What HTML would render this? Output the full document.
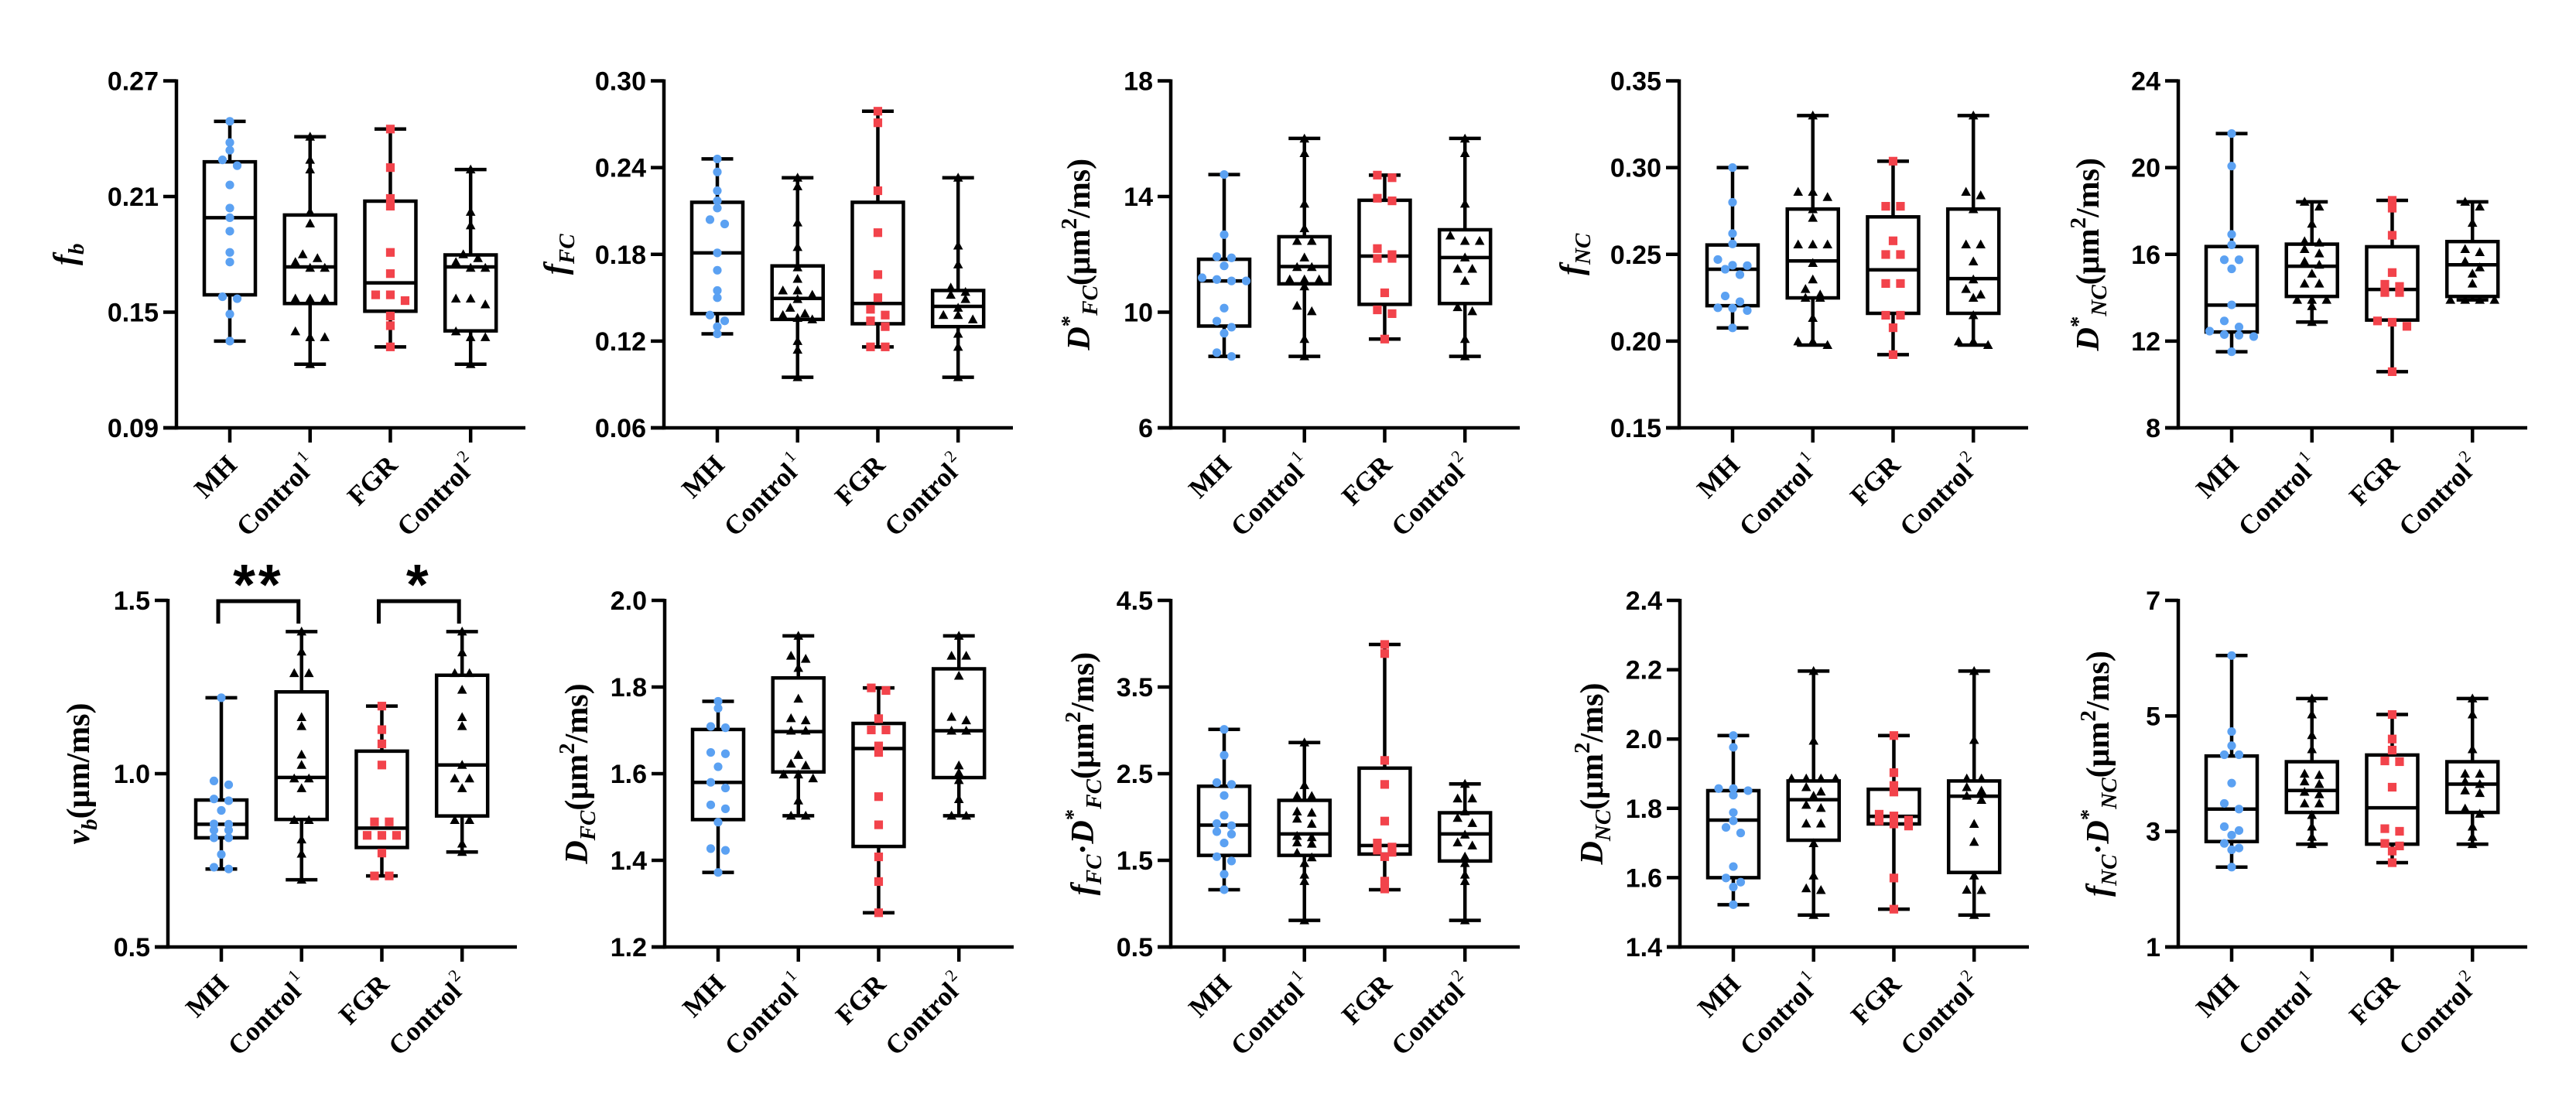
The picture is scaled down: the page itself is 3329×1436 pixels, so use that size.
<!DOCTYPE html>
<html><head><meta charset="utf-8">
<style>
html,body{margin:0;padding:0;background:#fff;}
svg{display:block;}
</style></head>
<body>
<svg id="fig" width="3329" height="1436" viewBox="0 0 3329 1436" xmlns="http://www.w3.org/2000/svg">
<rect width="3329" height="1436" fill="#fff"/>
</svg>
<script>
// ---------- data ----------
const categories = ["MH", "Control", "FGR", "Control"];
const catSup = ["", "1", "", "2"];

// Panel 1: f_b
const p1Ticks = [0.09, 0.15, 0.21, 0.27];
const p1Labels = ["0.09", "0.15", "0.21", "0.27"];
const p1MH = [0.249,0.238,0.234,0.229,0.226,0.216,0.204,0.199,0.192,0.181,0.176,0.157,0.158,0.149,0.135];
const p1C1 = [0.241,0.229,0.224,0.202,0.196,0.180,0.178,0.173,0.173,0.176,0.157,0.157,0.157,0.140,0.137,0.137,0.123];
const p1FGR = [0.245,0.225,0.209,0.205,0.181,0.170,0.159,0.156,0.159,0.148,0.143,0.132];
const p1C2 = [0.224,0.202,0.195,0.178,0.180,0.173,0.173,0.176,0.157,0.157,0.154,0.140,0.137,0.137,0.123];
const p1Box = [[0.135,0.159,0.199,0.228,0.249],[0.123,0.1545,0.1735,0.2004,0.241],[0.132,0.1505,0.1652,0.2076,0.245],[0.123,0.1403,0.1735,0.1797,0.224]];

// Panel 2: f_FC
const p2Ticks = [0.06, 0.12, 0.18, 0.24, 0.30];
const p2Labels = ["0.06", "0.12", "0.18", "0.24", "0.30"];
const p2MH = [0.246,0.237,0.224,0.217,0.212,0.204,0.201,0.181,0.169,0.155,0.150,0.138,0.134,0.130,0.125];
const p2C1 = [0.233,0.227,0.202,0.185,0.171,0.163,0.155,0.155,0.152,0.149,0.143,0.139,0.138,0.136,0.135,0.120,0.114,0.095];
const p2FGR = [0.279,0.271,0.224,0.195,0.166,0.150,0.142,0.138,0.134,0.130,0.116,0.116];
const p2C2 = [0.233,0.186,0.173,0.154,0.157,0.149,0.152,0.143,0.138,0.138,0.135,0.125,0.116,0.095];
const p2Box = [[0.125,0.139,0.181,0.216,0.246],[0.095,0.135,0.1495,0.172,0.233],[0.116,0.132,0.146,0.216,0.279],[0.095,0.130,0.144,0.155,0.233]];

// Panel 3: D*_FC
const p3Ticks = [6, 10, 14, 18];
const p3Labels = ["6", "10", "14", "18"];
const p3MH = [14.76,12.68,11.88,11.92,11.6,11.13,11.08,11.08,11.19,10.14,9.69,9.48,9.27,8.6,8.47];
const p3C1 = [16.0,15.5,13.75,12.9,12.46,12.46,11.89,11.56,11.56,11.13,11.13,11.13,10.89,10.22,10.03,9.07,8.47];
const p3FGR = [14.65,14.74,13.85,13.94,12.2,11.99,11.86,11.86,10.67,9.95,10.08,9.07];
const p3C2 = [16.0,15.5,13.75,12.65,12.46,12.46,11.89,11.5,11.5,11.08,10.17,10.03,9.07,8.47];
const p3Box = [[8.47,9.52,11.08,11.83,14.76],[8.47,10.98,11.58,12.61,16.01],[9.07,10.27,11.94,13.87,14.74],[8.47,10.3,11.89,12.85,16.01]];

// Panel 4: f_NC
const p4Ticks = [0.15, 0.20, 0.25, 0.30, 0.35];
const p4Labels = ["0.15", "0.20", "0.25", "0.30", "0.35"];
const p4MH = [0.300,0.280,0.262,0.256,0.247,0.2435,0.2414,0.2437,0.2383,0.226,0.2227,0.219,0.2176,0.2192,0.2076];
const p4C1 = [0.330,0.286,0.283,0.286,0.276,0.271,0.2557,0.2557,0.2557,0.245,0.2355,0.230,0.2268,0.2249,0.2249,0.2133,0.1998,0.1998,0.1977];
const p4FGR = [0.3037,0.2777,0.2777,0.2578,0.2499,0.2499,0.2332,0.2332,0.2149,0.2149,0.2077,0.1922];
const p4C2 = [0.330,0.284,0.286,0.276,0.2557,0.2557,0.2459,0.2355,0.230,0.2268,0.2249,0.2149,0.1998,0.1998,0.1977];
const p4Box = [[0.2076,0.2204,0.2414,0.2554,0.300],[0.1977,0.2249,0.2462,0.2761,0.330],[0.1922,0.216,0.2411,0.2716,0.3037],[0.1977,0.216,0.236,0.2761,0.330]];

// Panel 5: D*_NC
const p5Ticks = [8, 12, 16, 20, 24];
const p5Labels = ["8", "12", "16", "20", "24"];
const p5MH = [21.57,20.07,16.92,16.44,15.75,15.75,15.33,13.67,12.93,12.65,12.46,12.27,12.3,12.21,11.51];
const p5C1 = [18.42,18.2,17.41,16.54,16.6,16.04,16.24,15.67,15.52,15.11,14.65,14.65,13.9,13.9,13.9,13.61,12.88];
const p5FGR = [18.49,18.13,16.88,15.16,14.52,14.62,14.24,14.24,12.93,12.68,12.87,10.59];
const p5C2 = [18.42,18.2,17.45,16.1,16.24,15.67,15.4,15.11,14.65,13.9,13.9,13.9,13.9];
const p5Box = [[11.51,12.42,13.66,16.36,21.57],[12.88,14.06,15.45,16.47,18.42],[10.59,12.97,14.38,16.35,18.49],[13.9,14.06,15.52,16.59,18.42]];

// Panel 6: v_b
const p6Ticks = [0.5, 1.0, 1.5];
const p6Labels = ["0.5", "1.0", "1.5"];
const p6MH = [1.219,0.968,0.979,0.922,0.927,0.894,0.855,0.854,0.837,0.837,0.815,0.815,0.767,0.730,0.725];
const p6C1 = [1.410,1.352,1.290,1.290,1.163,1.137,1.055,1.025,0.986,0.986,0.958,0.866,0.866,0.810,0.769,0.694];
const p6FGR = [1.195,1.127,1.086,1.025,0.861,0.861,0.822,0.822,0.822,0.771,0.705,0.705];
const p6C2 = [1.410,1.350,1.290,1.290,1.242,1.163,1.137,1.025,0.986,0.986,0.958,0.866,0.866,0.798,0.774];
const p6Box = [[0.725,0.815,0.854,0.924,1.219],[0.694,0.868,0.989,1.236,1.410],[0.705,0.787,0.843,1.065,1.195],[0.774,0.878,1.025,1.284,1.410]];
const p6Sig = [["**", 0, 1], ["*", 2, 3]];

// Panel 7: D_FC
const p7Ticks = [1.2, 1.4, 1.6, 1.8, 2.0];
const p7Labels = ["1.2", "1.4", "1.6", "1.8", "2.0"];
const p7MH = [1.767,1.751,1.709,1.706,1.649,1.646,1.616,1.580,1.567,1.528,1.519,1.488,1.427,1.423,1.372];
const p7C1 = [1.918,1.872,1.865,1.844,1.773,1.728,1.723,1.699,1.699,1.643,1.623,1.619,1.598,1.598,1.589,1.538,1.503,1.503];
const p7FGR = [1.798,1.792,1.727,1.701,1.701,1.664,1.649,1.547,1.482,1.408,1.351,1.279];
const p7C2 = [1.918,1.872,1.872,1.826,1.731,1.723,1.699,1.699,1.619,1.602,1.585,1.541,1.503,1.503];
const p7Box = [[1.372,1.494,1.580,1.702,1.767],[1.503,1.604,1.697,1.821,1.918],[1.279,1.432,1.658,1.716,1.798],[1.503,1.591,1.699,1.842,1.918]];

// Panel 8: f_FC·D*_FC
const p8Ticks = [0.5, 1.5, 2.5, 3.5, 4.5];
const p8Labels = ["0.5", "1.5", "2.5", "3.5", "4.5"];
const p8MH = [3.011,2.713,2.376,2.397,2.248,2.019,1.924,1.900,1.831,1.802,1.700,1.542,1.492,1.340,1.161];
const p8C1 = [2.859,2.367,2.242,2.242,2.064,2.049,1.980,1.921,1.781,1.766,1.691,1.706,1.587,1.534,1.468,1.334,1.260,0.807];
const p8FGR = [3.991,3.886,2.653,2.376,1.953,1.700,1.653,1.593,1.617,1.542,1.260,1.170];
const p8C2 = [2.382,2.213,2.213,2.064,1.989,1.930,1.796,1.706,1.671,1.542,1.468,1.334,1.260,0.807];
const p8Box = [[1.161,1.557,1.906,2.355,3.011],[0.807,1.557,1.805,2.192,2.859],[1.161,1.572,1.671,2.564,3.991],[0.807,1.492,1.805,2.049,2.382]];

// Panel 9: D_NC
const p9Ticks = [1.4, 1.6, 1.8, 2.0, 2.2, 2.4];
const p9Labels = ["1.4", "1.6", "1.8", "2.0", "2.2", "2.4"];
const p9MH = [2.010,1.976,1.857,1.857,1.851,1.838,1.788,1.764,1.745,1.729,1.632,1.599,1.587,1.573,1.522];
const p9C1 = [2.196,1.995,1.886,1.886,1.886,1.886,1.861,1.848,1.836,1.810,1.801,1.756,1.756,1.699,1.606,1.569,1.564,1.492];
const p9FGR = [2.010,1.903,1.866,1.847,1.783,1.778,1.766,1.749,1.755,1.764,1.599,1.509];
const p9C2 = [2.196,1.997,1.886,1.886,1.861,1.851,1.836,1.824,1.755,1.703,1.606,1.565,1.564,1.492];
const p9Box = [[1.522,1.600,1.766,1.851,2.010],[1.492,1.708,1.825,1.879,2.196],[1.509,1.755,1.777,1.855,2.010],[1.492,1.615,1.835,1.879,2.196]];

// Panel 10: f_NC·D*_NC
const p10Ticks = [1, 3, 5, 7];
const p10Labels = ["1", "3", "5", "7"];
const p10MH = [6.045,4.729,4.484,4.328,4.328,3.837,3.485,3.387,3.083,3.016,2.936,2.793,2.682,2.713,2.383];
const p10C1 = [5.300,5.024,4.667,4.422,3.998,3.976,3.864,3.819,3.686,3.641,3.485,3.485,3.284,3.083,2.905,2.780];
const p10FGR = [5.024,4.600,4.408,4.221,4.208,3.766,3.048,3.003,2.749,2.793,2.660,2.459];
const p10C2 = [5.300,5.024,4.422,3.998,3.998,3.864,3.819,3.708,3.663,3.396,3.306,3.083,2.905,2.780];
const p10Box = [[2.383,2.825,3.387,4.306,6.045],[2.780,3.329,3.708,4.207,5.300],[2.459,2.780,3.409,4.323,5.024],[2.780,3.329,3.819,4.207,5.300]];

// ---------- layout (not data) ----------
const panels = [
  {name:"fb", ticks:p1Ticks, labels:p1Labels, series:[p1MH,p1C1,p1FGR,p1C2], box:p1Box, ax:228, top:104.5, bot:553, tdx:-130,
   title:[["f","i"],["b","sub"]]},
  {name:"ffc", ticks:p2Ticks, labels:p2Labels, series:[p2MH,p2C1,p2FGR,p2C2], box:p2Box, ax:858, top:104.5, bot:553, tdx:-126,
   title:[["f","i"],["FC","sub"]]},
  {name:"dstar-fc", ticks:p3Ticks, labels:p3Labels, series:[p3MH,p3C1,p3FGR,p3C2], box:p3Box, ax:1513, top:104.5, bot:553, tdx:-105,
   title:[["D","i"],["*","sup"],["FC","sub"],["(μm","n"],["2","sup"],["/ms)","n"]]},
  {name:"fnc", ticks:p4Ticks, labels:p4Labels, series:[p4MH,p4C1,p4FGR,p4C2], box:p4Box, ax:2170, top:104.5, bot:553, tdx:-125,
   title:[["f","i"],["NC","sub"]]},
  {name:"dstar-nc", ticks:p5Ticks, labels:p5Labels, series:[p5MH,p5C1,p5FGR,p5C2], box:p5Box, ax:2815, top:104.5, bot:553, tdx:-103,
   title:[["D","i"],["*","sup"],["NC","sub"],["(μm","n"],["2","sup"],["/ms)","n"]]},
  {name:"vb", ticks:p6Ticks, labels:p6Labels, series:[p6MH,p6C1,p6FGR,p6C2], box:p6Box, ax:217, top:776, bot:1224, tdx:-102, sig:p6Sig,
   title:[["v","i"],["b","sub"],["(μm/ms)","n"]]},
  {name:"dfc", ticks:p7Ticks, labels:p7Labels, series:[p7MH,p7C1,p7FGR,p7C2], box:p7Box, ax:859, top:776, bot:1224, tdx:-100,
   title:[["D","i"],["FC","sub"],["(μm","n"],["2","sup"],["/ms)","n"]]},
  {name:"ffc-dstar-fc", ticks:p8Ticks, labels:p8Labels, series:[p8MH,p8C1,p8FGR,p8C2], box:p8Box, ax:1513, top:776, bot:1224, tdx:-100,
   title:[["f","i"],["FC","sub"],["·","n"],["D","i"],["*","sup"],["FC","sub"],["(μm","n"],["2","sup"],["/ms)","n"]]},
  {name:"dnc", ticks:p9Ticks, labels:p9Labels, series:[p9MH,p9C1,p9FGR,p9C2], box:p9Box, ax:2171, top:776, bot:1224, tdx:-100,
   title:[["D","i"],["NC","sub"],["(μm","n"],["2","sup"],["/ms)","n"]]},
  {name:"fnc-dstar-nc", ticks:p10Ticks, labels:p10Labels, series:[p10MH,p10C1,p10FGR,p10C2], box:p10Box, ax:2815, top:776, bot:1224, tdx:-90,
   title:[["f","i"],["NC","sub"],["·","n"],["D","i"],["*","sup"],["NC","sub"],["(μm","n"],["2","sup"],["/ms)","n"]]}
];
const AXLEN = 451;
const CATFRAC = [0.153, 0.383, 0.613, 0.843];
const BOXW = 66, CAPW = 33, LW = 4.5;
const SWARM = 19;
const NS = "http://www.w3.org/2000/svg";
const svg = document.getElementById("fig");

function mk(tag, attrs, parent){
  const e = document.createElementNS(NS, tag);
  for (const k in attrs) e.setAttribute(k, attrs[k]);
  (parent || svg).appendChild(e);
  return e;
}

function swarm(vals, yf){
  const idx = vals.map((v,i)=>i).sort((a,b)=>vals[b]-vals[a]);
  const off = new Array(vals.length).fill(0);
  let bin = [];
  let startY = null;
  const flush = ()=>{ const n = bin.length; bin.forEach((j,k)=>{ off[j] = (k-(n-1)/2)*SWARM; }); };
  idx.forEach(i=>{
    const y = yf(vals[i]);
    if (startY === null || Math.abs(y-startY) > 8){ flush(); bin = [i]; startY = y; }
    else bin.push(i);
  });
  flush();
  return off;
}

panels.forEach((p, pi)=>{
  const g = mk("g", {});
  
  
  const lo = p.ticks[0], hi = p.ticks[p.ticks.length-1];
  const yf = v => p.bot - (v-lo)/(hi-lo)*(p.bot-p.top);
  const cx = i => p.ax + CATFRAC[i]*AXLEN;

  const ya = mk("line", {x1:p.ax, y1:p.top-2, x2:p.ax, y2:p.bot+LW/2, stroke:"#000","stroke-width":LW}, g);
  
  
  p.ticks.forEach((t,k)=>{
    const y = yf(t);
    const tl = mk("line", {x1:p.ax-17, y1:y, x2:p.ax, y2:y, stroke:"#000","stroke-width":LW}, g);
    
    
    const tx = mk("text", {x:p.ax-23, y:y+12, "text-anchor":"end", "font-family":"Liberation Sans, Arial, sans-serif", "font-weight":"bold", "font-size":34, fill:"#000"}, g);
    tx.textContent = p.labels[k];
    
    
  });
  const xa = mk("line", {x1:p.ax-17, y1:p.bot, x2:p.ax+AXLEN, y2:p.bot, stroke:"#000","stroke-width":LW}, g);
  
  
  categories.forEach((c,i)=>{
    const x = cx(i);
    const xt = mk("line", {x1:x, y1:p.bot, x2:x, y2:p.bot+19, stroke:"#000","stroke-width":LW}, g);
    
    
    const px = x+11, py = p.bot+50;
    const lt = mk("text", {x:px, y:py, "text-anchor":"end", transform:`rotate(-45 ${px} ${py})`,
      "font-family":"Liberation Serif, Times New Roman, serif", "font-weight":"bold", "font-size":35, fill:"#000"}, g);
    
    
    const t1 = mk("tspan", {}, lt); t1.textContent = c;
    if (catSup[i]){
      const t2 = mk("tspan", {dy:-17, "font-size":22, "font-weight":"normal", dx:3}, lt);
      t2.textContent = catSup[i];
    }
  });
  const tx0 = p.ax + p.tdx, ty0 = (p.top+p.bot)/2;
  const tt = mk("text", {x:tx0, y:ty0, "text-anchor":"middle", transform:`rotate(-90 ${tx0} ${ty0})`,
    "font-family":"Liberation Serif, Times New Roman, serif", "font-weight":"bold", "font-size":42, fill:"#000"}, g);
  
  
  let shift = 0;
  p.title.forEach(([s,st])=>{
    const a = {};
    let target = 0;
    if (st === "i"){ a["font-style"] = "italic"; }
    if (st === "sub"){ a["font-style"] = "italic"; a["font-size"] = 29; target = 10; }
    if (st === "sup"){ a["font-size"] = 29; target = -17; }
    a.dy = target - shift; shift = target;
    const ts = mk("tspan", a, tt); ts.textContent = s;
  });

  p.box.forEach((b,i)=>{
    const x = cx(i);
    const [mn,q1,md,q3,mx] = b;
    const bg = mk("g", {}, g);
    
    
    mk("line", {x1:x, y1:yf(mx), x2:x, y2:yf(q3), stroke:"#000","stroke-width":LW}, bg);
    mk("line", {x1:x, y1:yf(q1), x2:x, y2:yf(mn), stroke:"#000","stroke-width":LW}, bg);
    mk("line", {x1:x-CAPW/2-4, y1:yf(mx), x2:x+CAPW/2+4, y2:yf(mx), stroke:"#000","stroke-width":LW}, bg);
    mk("line", {x1:x-CAPW/2-4, y1:yf(mn), x2:x+CAPW/2+4, y2:yf(mn), stroke:"#000","stroke-width":LW}, bg);
    mk("rect", {x:x-BOXW/2, y:yf(q3), width:BOXW, height:yf(q1)-yf(q3), fill:"none", stroke:"#000","stroke-width":LW}, bg);
    mk("line", {x1:x-BOXW/2, y1:yf(md), x2:x+BOXW/2, y2:yf(md), stroke:"#000","stroke-width":LW}, bg);
  });

  p.series.forEach((vals,i)=>{
    const x = cx(i);
    const off = swarm(vals, yf);
    vals.forEach((v,k)=>{
      const px = x+off[k], py = yf(v);
      let m;
      if (i === 0){
        m = mk("circle", {cx:px, cy:py, r:5.6, fill:"#5ba1f2"}, g);
      } else if (i === 2){
        m = mk("rect", {x:px-5.6, y:py-5.6, width:11.2, height:11.2, fill:"#f2434b"}, g);
      } else {
        m = mk("polygon", {points:`${px},${py-6.5} ${px+6.3},${py+5} ${px-6.3},${py+5}`, fill:"#000"}, g);
      }
      
      
    });
  });

  if (p.sig){
    p.sig.forEach(([lab,a,b])=>{
      const x1 = cx(a)-4, x2 = cx(b)-4;
      const by = p.top+1;
      const br = mk("polyline", {points:`${x1},${by+29} ${x1},${by} ${x2},${by} ${x2},${by+29}`, fill:"none", stroke:"#000","stroke-width":LW+0.5}, g);
      
      
      const st = mk("text", {x:(x1+x2)/2, y:by+4, "text-anchor":"middle", "font-family":"Liberation Sans, Arial, sans-serif",
        "font-weight":"bold", "font-size":74, "letter-spacing":4, fill:"#000"}, g);
      st.textContent = lab;
      
      
    });
  }
});
</script>
</body></html>
